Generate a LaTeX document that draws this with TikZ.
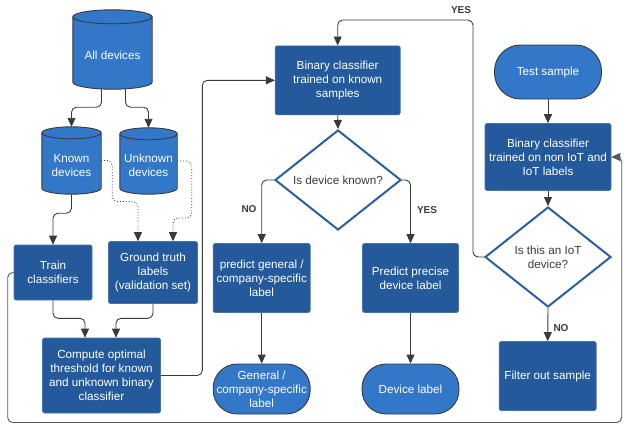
\documentclass[tikz,border=0pt]{standalone}
\usepackage{fontspec}
\setmainfont{Liberation Sans}
\usetikzlibrary{arrows.meta,shapes.geometric,calc}
\definecolor{darkbox}{HTML}{245A9B}
\definecolor{lightbox}{HTML}{3277C8}
\definecolor{diabord}{HTML}{2B5FA3}
\definecolor{linec}{HTML}{3A3A3A}
\newcommand\cylshape[2]{%
  \path[fill=lightbox, draw=linec, line width=0.9pt]
    let \p1=(#1.north west), \p2=(#1.south east), \n1={(\x2-\x1)/2} in
    ([yshift=-#2]#1.north west) -- ([yshift=#2]#1.south west)
    arc[start angle=180, end angle=360, x radius=\n1, y radius=#2]
    -- ([yshift=-#2]#1.north east)
    arc[start angle=0, end angle=180, x radius=\n1, y radius=#2] -- cycle;
  \path[draw=linec, line width=0.9pt]
    let \p1=(#1.north west), \p2=(#1.south east), \n1={(\x2-\x1)/2} in
    ([yshift=-#2]#1.north west)
    arc[start angle=180, end angle=360, x radius=\n1, y radius=#2];
}
\begin{document}
\begin{tikzpicture}[x=1pt,y=-1pt,
  font=\fontsize{11.7}{14}\selectfont,
  box/.style={rectangle, rounded corners=2pt, fill=darkbox, draw=darkbox!85!white, line width=0.6pt, text=white, align=center, inner sep=0pt},
  term/.style={rectangle, rounded corners=24pt, fill=lightbox, draw=linec, line width=0.9pt, text=white, align=center, inner sep=0pt},
  dia/.style={diamond, draw=diabord, line width=2pt, fill=white, text=linec, align=center, inner sep=0pt},
  cylbox/.style={rectangle, inner sep=0pt},
  cyltxt/.style={text=white, align=center, inner sep=0pt},
  conn/.style={draw=linec, line width=0.9pt, rounded corners=5pt, -{Triangle[length=9pt,width=8pt]}},
  dots/.style={conn, dotted},
  loopline/.style={conn, draw=linec!85!white},
  lbl/.style={font=\fontsize{10}{11}\selectfont\bfseries, text=linec, inner sep=0pt}
]
\useasboundingbox (0,0) rectangle (624,424);

% cylinders
\node[cylbox, minimum width=79pt, minimum height=79pt] (alld) at (112.5,49.5) {};
\cylshape{alld}{7pt}
\node[cyltxt] (alldt) at ([yshift=-6pt]alld.center) {All devices};
\node[cylbox, minimum width=59pt, minimum height=67pt] (known) at (71.5,160.5) {};
\cylshape{known}{6pt}
\node[cyltxt] (knownt) at ([yshift=-5pt]known.center) {Known\\devices};
\node[cylbox, minimum width=57pt, minimum height=66pt] (unknown) at (148.5,161) {};
\cylshape{unknown}{6pt}
\node[cyltxt] (unknownt) at ([yshift=-4.5pt]unknown.center) {Unknown\\devices};

% boxes
\node[box, minimum width=78pt, minimum height=55pt] (train) at (53,272.5) {Train\\classifiers};
\node[box, minimum width=89pt, minimum height=62pt] (gt) at (153,272.5) {Ground truth\\labels\\(validation set)};
\node[box, minimum width=118pt, minimum height=75pt] (compute) at (101.5,375.5) {Compute optimal\\threshold for known\\and unknown binary\\classifier};
\node[box, minimum width=125pt, minimum height=69pt] (bck) at (337.7,80.3) {Binary classifier\\trained on known\\samples};
\node[dia, minimum width=126pt, minimum height=100pt] (dk) at (338,180) {Is device known?};
\node[box, minimum width=97pt, minimum height=69pt] (pg) at (261.7,278) {predict general /\\company-specific\\label};
\node[box, minimum width=96pt, minimum height=69pt] (pp) at (410.5,278) {Predict precise\\device label};
\node[term, minimum width=97pt, minimum height=50pt] (gl) at (261.7,389) {General /\\company-specific\\label};
\node[term, minimum width=97pt, minimum height=50pt] (dl) at (410.5,389) {Device label};
\node[term, minimum width=107pt, minimum height=54pt, rounded corners=26pt] (ts) at (548,72) {Test sample};
\node[box, minimum width=126pt, minimum height=67pt] (bci) at (548,157) {Binary classifier\\trained on non IoT and\\IoT labels};
\node[dia, minimum width=126pt, minimum height=100pt] (iot) at (548,257) {Is this an IoT\\device?};
\node[box, minimum width=97pt, minimum height=69pt] (fo) at (547.7,376) {Filter out sample};

% connectors
\draw[conn] ([xshift=-11pt]alld.south) -- ++(0,18) -| (known.north);
\draw[conn] ([xshift=13pt]alld.south) -- ++(0,18) -| (unknown.north);
\draw[conn] (known.south) -- ++(0,19) -| (train.north);
\draw[dots] (known.east) -- ++(11,0) -- ++(0,41) -| ([xshift=-15pt]gt.north);
\draw[dots] (unknown.east) -- ++(14.5,0) -- ++(0,57) -| ([xshift=20pt]gt.north);
\draw[conn] (train.south) -- ++(0,18) -| ([xshift=-16.5pt]compute.north);
\draw[conn] (gt.south) -- ++(0,14.5) -| ([xshift=14.5pt]compute.north);
\draw[conn] (compute.east) -- ++(41.5,0) |- (bck.west);
\draw[conn] (bck.south) -- (dk.north);
\draw[conn] (dk.west) -| (pg.north);
\draw[conn] (dk.east) -| (pp.north);
\draw[conn] (pg.south) -- (gl.north);
\draw[conn] (pp.south) -- (dl.north);
\draw[conn] (ts.south) -- (bci.north);
\draw[conn] (bci.south) -- (iot.north);
\draw[conn] (iot.south) -- (fo.north);
\draw[conn] (iot.west) -- ++(-11,0) -- ++(0,-237) -| (bck.north);
\draw[loopline] (train.west) -- ++(-6,0) -- ++(0,150) -- ++(614,0) |- (bci.east);

% labels
\node[lbl] (yes1) at (461,10) {YES};
\node[lbl] (no1) at (249,209) {NO};
\node[lbl] (yes2) at (427,210) {YES};
\node[lbl] (no2) at (561,328) {NO};
\end{tikzpicture}
\end{document}
